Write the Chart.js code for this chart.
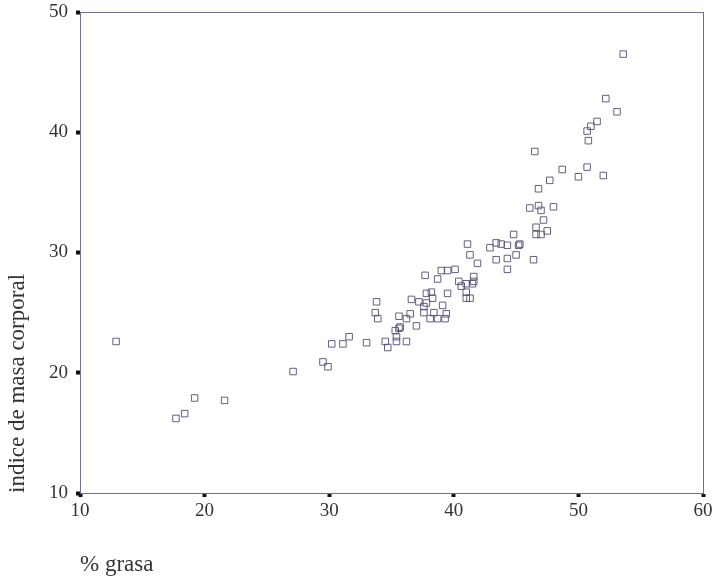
<!DOCTYPE html>
<html>
<head>
<meta charset="utf-8">
<script src="https://cdn.jsdelivr.net/npm/chart.js@4.4.1/dist/chart.umd.min.js"></script>
<style>
  body { margin: 0; background: #fff; }
  #wrap { width: 712px; height: 579px; }
</style>
</head>
<body>
<div id="wrap"><canvas id="chart" width="712" height="579"></canvas></div>
<script>
// % grasa
const grasa = [12.9, 17.7, 18.4, 19.2, 21.6, 27.1, 29.5, 29.9, 30.2, 31.1,
  31.6, 33.0, 33.8, 33.7, 33.9, 34.5, 34.7, 35.3, 35.4, 35.4,
  35.6, 35.7, 35.6, 36.2, 36.2, 36.5, 36.6, 37.0, 37.2, 37.7,
  37.6, 37.6, 37.8, 38.2, 37.8, 38.1, 38.3, 38.4, 38.7, 38.7,
  39.0, 39.1, 39.3, 39.4, 39.5, 39.5, 40.1, 40.4, 40.6, 41.0,
  41.0, 41.0, 41.3, 41.1, 41.3, 41.5, 41.6, 41.6, 41.9, 42.9,
  43.4, 43.4, 43.8, 44.3, 44.3, 44.3, 44.8, 45.0, 45.2, 45.3,
  46.1, 46.4, 46.5, 46.6, 46.6, 46.8, 46.8, 47.0, 47.0, 47.2,
  47.5, 47.7, 48.0, 48.7, 50.0, 50.7, 50.7, 50.8, 51.0, 51.5,
  52.0, 52.2, 53.1, 53.6];
// indice de masa corporal
const imc = [22.6, 16.2, 16.6, 17.9, 17.7, 20.1, 20.9, 20.5, 22.4, 22.4,
  23.0, 22.5, 25.9, 25.0, 24.5, 22.6, 22.1, 23.5, 23.0, 22.6,
  23.7, 23.8, 24.7, 22.6, 24.5, 24.9, 26.1, 23.9, 25.9, 28.1,
  25.5, 25.0, 26.6, 26.7, 25.8, 24.5, 26.2, 25.0, 27.8, 24.5,
  28.5, 25.6, 24.5, 24.9, 26.6, 28.5, 28.6, 27.6, 27.2, 27.4,
  26.7, 26.2, 26.2, 30.7, 29.8, 27.4, 28.0, 27.6, 29.1, 30.4,
  30.8, 29.4, 30.7, 30.6, 29.5, 28.6, 31.5, 29.8, 30.6, 30.7,
  33.7, 29.4, 38.4, 32.1, 31.5, 35.3, 33.9, 33.5, 31.5, 32.7,
  31.8, 36.0, 33.8, 36.9, 36.3, 37.1, 40.1, 39.3, 40.5, 40.9,
  36.4, 42.8, 41.7, 46.5];
const xTicks = [10, 20, 30, 40, 50, 60];
const yTicks = [10, 20, 30, 40, 50];

const frameColor = '#6f7090';
const serif = "'Liberation Serif', 'DejaVu Serif', serif";

const frame = {
  id: 'frame',
  afterDraw(chart) {
    const { ctx, chartArea: a } = chart;
    ctx.save();
    ctx.strokeStyle = frameColor;
    ctx.lineWidth = 1;
    ctx.strokeRect(a.left + 0.5, a.top + 0.5, a.right - a.left, a.bottom - a.top);
    ctx.restore();
  }
};

new Chart(document.getElementById('chart'), {
  type: 'scatter',
  data: {
    datasets: [{
      data: grasa.map((g, i) => ({ x: g, y: imc[i] })),
      pointStyle: 'rect',
      pointRadius: 4.6,
      pointBorderWidth: 1,
      pointBorderColor: 'rgba(80, 80, 115, 0.9)',
      pointBackgroundColor: 'rgba(255,255,255,0)'
    }]
  },
  options: {
    responsive: false,
    animation: false,
    layout: { padding: { top: 12, right: 9 } },
    plugins: { legend: { display: false }, tooltip: { enabled: false } },
    scales: {
      x: {
        type: 'linear', min: 10, max: 60,
        afterBuildTicks: s => { s.ticks = xTicks.map(v => ({ value: v })); },
        afterFit: s => { s.height = 86; s.paddingLeft = 0; s.paddingRight = 0; },
        grid: { drawOnChartArea: false, tickLength: 4, tickWidth: 4, tickColor: '#111' },
        border: { color: frameColor },
        ticks: { color: '#333', padding: 3, font: { family: serif, size: 19 } },
        title: {
          display: true, text: '% grasa', align: 'start', color: '#333',
          font: { family: serif, size: 23 }, padding: { bottom: 0 }
        }
      },
      y: {
        type: 'linear', min: 10, max: 50,
        afterBuildTicks: s => { s.ticks = yTicks.map(v => ({ value: v })); },
        afterFit: s => { s.width = 80; s.paddingTop = 0; s.paddingBottom = 0; },
        grid: { drawOnChartArea: false, tickLength: 4, tickWidth: 4, tickColor: '#111' },
        border: { color: frameColor },
        ticks: { color: '#333', padding: 8, font: { family: serif, size: 19 } },
        title: {
          display: true, text: 'indice de masa corporal', align: 'start', color: '#333',
          font: { family: serif, size: 23 }, padding: { top: 4 }
        }
      }
    }
  },
  plugins: [frame]
});
</script>
</body>
</html>
